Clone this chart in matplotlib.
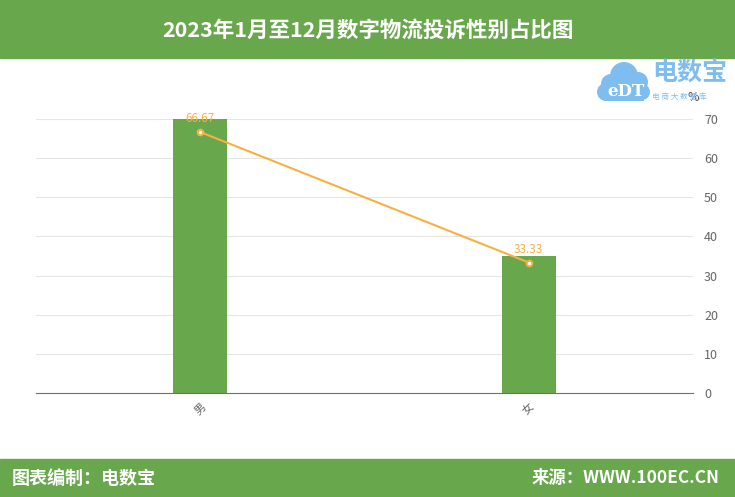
import matplotlib.pyplot as plt
import matplotlib.patches as patches

plt.rcParams['font.family'] = ['Noto Sans CJK SC', 'DejaVu Sans']

categories = ['男', '女']
bar_values = [70, 35]
line_values = [66.67, 33.33]
yticks = [0, 10, 20, 30, 40, 50, 60, 70]

green = '#68a74c'
orange = '#f9b042'
blue = '#7fbdf0'

W, H = 735, 497
fig = plt.figure(figsize=(7.35, 4.97), dpi=100)

# title and footer bands
fig.patches.append(patches.Rectangle((0, 1 - 58 / H), 1, 58 / H, transform=fig.transFigure,
                                     color=green, zorder=0))
fig.patches.append(patches.Rectangle((0, 0), 1, 38 / H, transform=fig.transFigure,
                                     color=green, zorder=0))
fig.text(0.5, 1 - 30 / H, '2023年1月至12月数字物流投诉性别占比图', ha='center', va='center',
         color='white', fontsize=15.5, fontweight='bold')
fig.text(12 / W, 19 / H, '图表编制：电数宝', ha='left', va='center', color='white',
         fontsize=13, fontweight='bold')
fig.text(720 / W, 19 / H, '来源：WWW.100EC.CN', ha='right', va='center', color='white',
         fontsize=12.5, fontweight='bold')

# logo approximation: cloud + text
lax = fig.add_axes([594 / W, 1 - 104 / H, 60 / W, 46 / H])
lax.set_xlim(0, 60)
lax.set_ylim(0, 46)
lax.axis('off')
for cx, cy, r in [(30, 28, 14), (17, 20, 10), (44, 22, 10), (12, 12, 9), (48, 12, 8)]:
    lax.add_patch(patches.Circle((cx, cy), r, color=blue, lw=0))
lax.add_patch(patches.Rectangle((10, 3), 40, 14, color=blue, lw=0))
lax.text(32, 12, 'eDT', ha='center', va='center', color='white', fontsize=12,
         fontweight='bold', family='DejaVu Serif')
fig.text(652 / W, 1 - 74 / H, '电数宝', ha='left', va='center', color=blue,
         fontsize=18, fontweight='bold')
fig.text(652 / W, 1 - 97 / H, '电 商 大 数 据 库', ha='left', va='center', color=blue,
         fontsize=5.5)

ax = fig.add_axes([36 / W, (H - 393) / H, 657 / W, 274 / H])
x = range(len(categories))
ax.bar(x, bar_values, width=0.165, color=green, zorder=2)
ax.plot(x, line_values, color=orange, lw=1.5, marker='o', ms=4, mfc='white', mec=orange,
        mew=1.5, zorder=3)
for xi, v in zip(x, line_values):
    ax.annotate(f'{v:.2f}', (xi, v), xytext=(0, 5), textcoords='offset points', ha='center',
                va='bottom', color=orange, fontsize=8.5)

ax.set_xlim(-0.5, 1.5)
ax.set_ylim(0, 70)
ax.set_yticks(yticks)
ax.yaxis.tick_right()
ax.tick_params(axis='y', length=0, pad=8, labelsize=9, labelcolor='#666666')
ax.set_xticks(list(x))
ax.set_xticklabels(categories, rotation=45, fontsize=8, color='#666666')
ax.tick_params(axis='x', length=0, pad=6)
ax.grid(axis='y', color='#e6e6e6', lw=0.8, zorder=0)
for s in ['top', 'left', 'right']:
    ax.spines[s].set_visible(False)
ax.spines['bottom'].set_color('#6e7079')
ax.text(1.0, 1.08, '%', transform=ax.transAxes, ha='center', va='center', fontsize=9,
        color='#555555')

fig.savefig('out.png', dpi=100)
